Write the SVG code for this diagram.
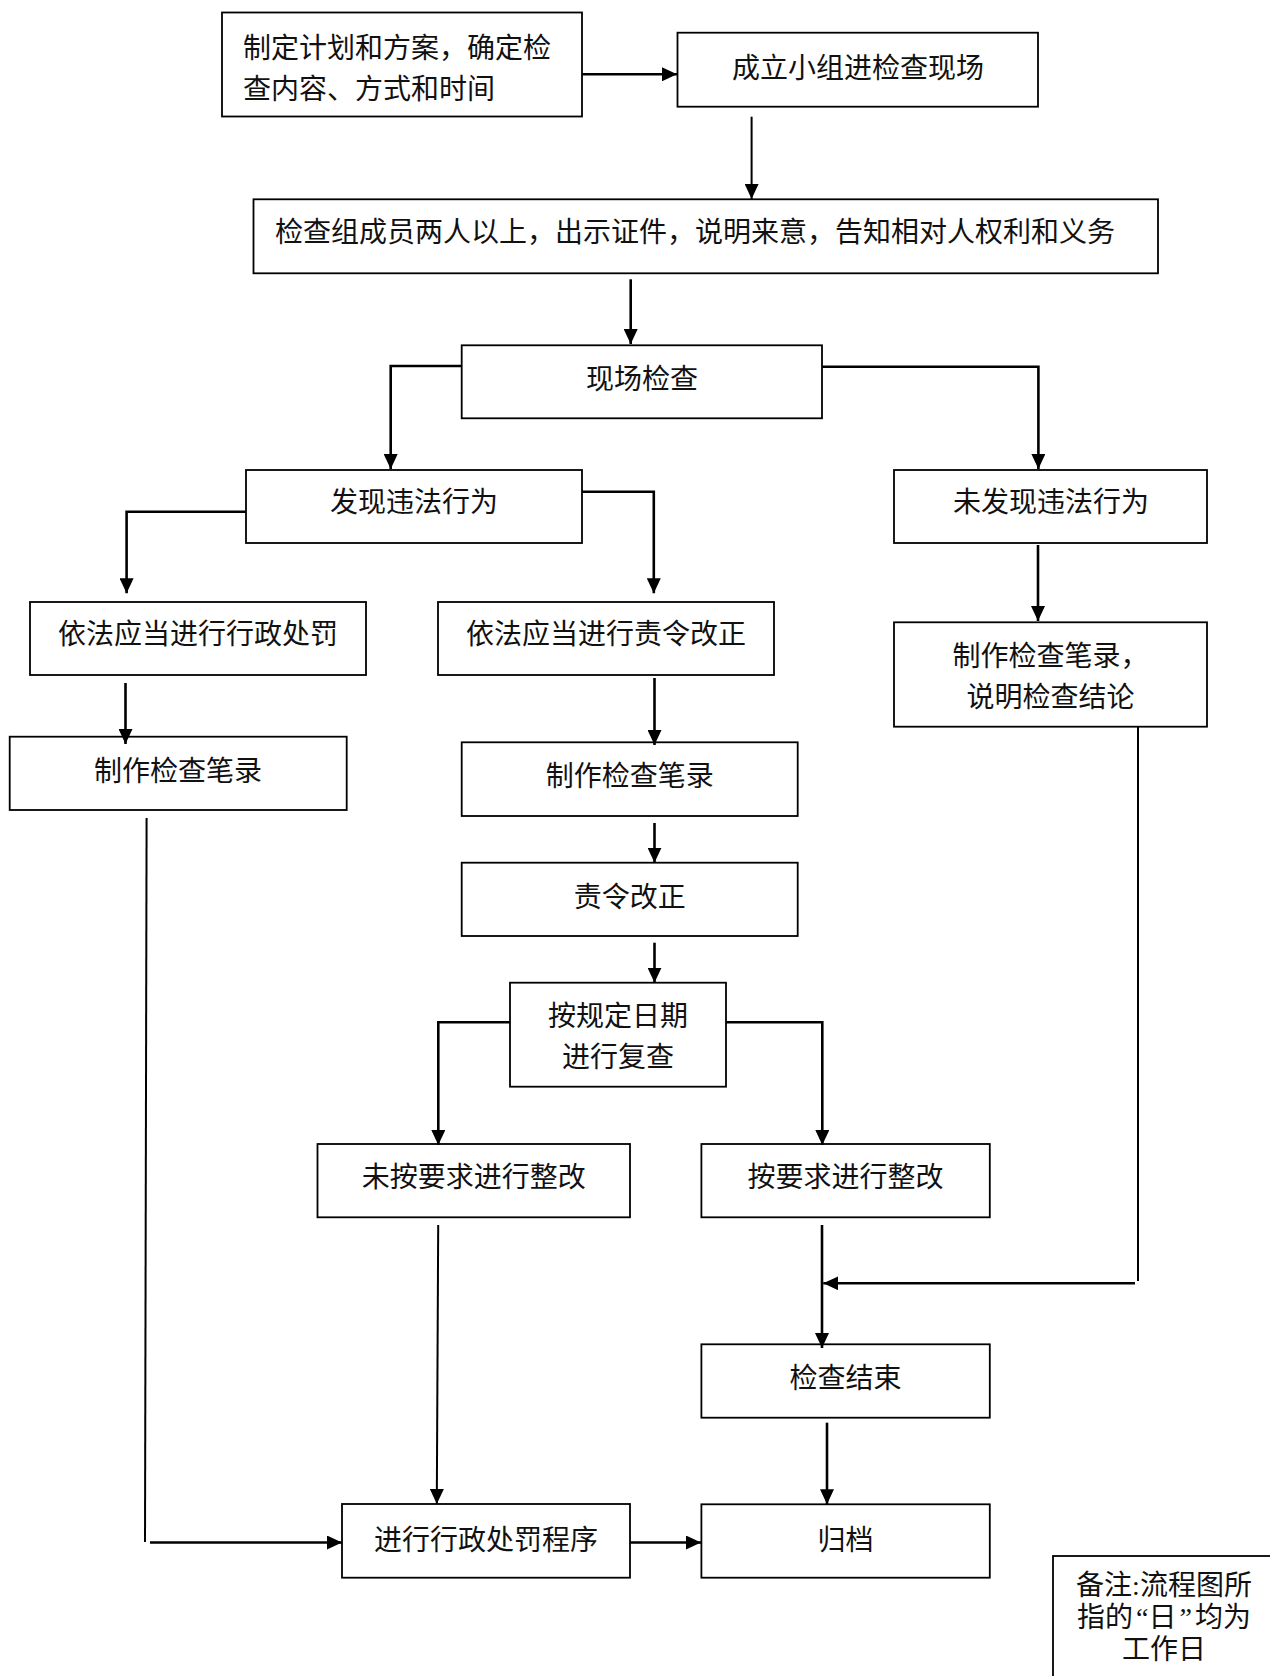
<svg xmlns="http://www.w3.org/2000/svg" width="1270" height="1676" viewBox="0 0 1270 1676">
<style>
.box{fill:#fff;stroke:#000;stroke-width:1.8}
.t{font-family:"Liberation Serif","Noto Sans CJK SC",serif;font-size:28px;fill:#111}
.c{text-anchor:middle}
.ln{fill:none;stroke:#000;stroke-width:2.6}
.th{fill:none;stroke:#000;stroke-width:2}
</style>
<defs>
<marker id="ah" markerUnits="userSpaceOnUse" markerWidth="16" markerHeight="14" refX="15" refY="7" orient="auto">
<path d="M0,0 L15,7 L0,14 z" fill="#000"/>
</marker>
</defs>
<rect width="1270" height="1676" fill="#fff"/>
<g id="n1"><rect class="box" x="222" y="12.5" width="360" height="104"/>
<text class="t" x="243" y="57.6">制定计划和方案，确定检</text>
<text class="t" x="243" y="98.6">查内容、方式和时间</text></g>
<g id="n2"><rect class="box" x="677.5" y="32.7" width="360.5" height="74"/>
<text class="t c" x="858" y="77.6">成立小组进检查现场</text></g>
<g id="n3"><rect class="box" x="253.5" y="199.3" width="904.5" height="74"/>
<text class="t" x="275" y="242.3">检查组成员两人以上，出示证件，说明来意，告知相对人权利和义务</text></g>
<g id="n4"><rect class="box" x="461.7" y="345.3" width="360.3" height="73"/>
<text class="t c" x="642" y="388.6">现场检查</text></g>
<g id="n5"><rect class="box" x="246" y="470" width="336" height="73"/>
<text class="t c" x="414" y="512">发现违法行为</text></g>
<g id="n6"><rect class="box" x="894" y="470" width="313" height="73"/>
<text class="t c" x="1051" y="512">未发现违法行为</text></g>
<g id="n7"><rect class="box" x="30" y="602" width="336" height="73"/>
<text class="t c" x="198" y="643.6">依法应当进行行政处罚</text></g>
<g id="n8"><rect class="box" x="438" y="602" width="336" height="73"/>
<text class="t c" x="606" y="643.6">依法应当进行责令改正</text></g>
<g id="n9"><rect class="box" x="894" y="622.3" width="313" height="104.4"/>
<text class="t c" x="1050.5" y="665.6">制作检查笔录，</text>
<text class="t c" x="1050.5" y="707.3">说明检查结论</text></g>
<g id="n10"><rect class="box" x="9.7" y="736.7" width="337" height="73.3"/>
<text class="t c" x="178" y="780.6">制作检查笔录</text></g>
<g id="n11"><rect class="box" x="461.7" y="742.3" width="336" height="73.7"/>
<text class="t c" x="629.8" y="785.6">制作检查笔录</text></g>
<g id="n12"><rect class="box" x="461.7" y="862.7" width="336" height="73.3"/>
<text class="t c" x="629.8" y="907.3">责令改正</text></g>
<g id="n13"><rect class="box" x="510" y="982.7" width="216" height="104"/>
<text class="t c" x="618" y="1025.6">按规定日期</text>
<text class="t c" x="618" y="1067.3">进行复查</text></g>
<g id="n14"><rect class="box" x="317.5" y="1144" width="312.5" height="73.3"/>
<text class="t c" x="473.8" y="1187.3">未按要求进行整改</text></g>
<g id="n15"><rect class="box" x="701.4" y="1144" width="288.4" height="73.3"/>
<text class="t c" x="845.6" y="1187.3">按要求进行整改</text></g>
<g id="n16"><rect class="box" x="701.4" y="1344.3" width="288.4" height="73.4"/>
<text class="t c" x="845.6" y="1388.3">检查结束</text></g>
<g id="n17"><rect class="box" x="701.4" y="1504.3" width="288.4" height="73.4"/>
<text class="t c" x="845.6" y="1550">归档</text></g>
<g id="n18"><rect class="box" x="342" y="1504" width="288" height="73.7"/>
<text class="t c" x="486" y="1549.6">进行行政处罚程序</text></g>
<g id="note"><rect class="box" x="1053" y="1556" width="240" height="140"/>
<text class="t c" x="1164" y="1594.6">备注:流程图所</text>
<text class="t c" x="1164" y="1626.6">指的<tspan dx="3">“</tspan>日<tspan dx="3">”</tspan><tspan dx="3">均为</tspan></text>
<text class="t c" x="1164" y="1659">工作日</text></g>
<g id="connectors">
<line class="ln" x1="582" y1="74.3" x2="677" y2="74.3" marker-end="url(#ah)"/>
<line class="th" x1="751.6" y1="116.7" x2="751.6" y2="199" marker-end="url(#ah)"/>
<line class="ln" x1="630.7" y1="279.3" x2="630.7" y2="344" marker-end="url(#ah)"/>
<polyline class="ln" points="461.7,366 390.7,366 390.7,469" marker-end="url(#ah)"/>
<polyline class="ln" points="822,366.7 1038.4,366.7 1038.4,469" marker-end="url(#ah)"/>
<polyline class="ln" points="246,511.7 126.6,511.7 126.6,593.3" marker-end="url(#ah)"/>
<polyline class="ln" points="582,491.7 653.8,491.7 653.8,593.3" marker-end="url(#ah)"/>
<line class="ln" x1="1038" y1="545" x2="1038" y2="621" marker-end="url(#ah)"/>
<line class="ln" x1="125.5" y1="683" x2="125.5" y2="744" marker-end="url(#ah)"/>
<line class="ln" x1="654.5" y1="678" x2="654.5" y2="745" marker-end="url(#ah)"/>
<line class="ln" x1="654.5" y1="823" x2="654.5" y2="862.7" marker-end="url(#ah)"/>
<line class="ln" x1="654.5" y1="942.7" x2="654.5" y2="982.7" marker-end="url(#ah)"/>
<polyline class="ln" points="510,1022.3 438.3,1022.3 438.3,1145" marker-end="url(#ah)"/>
<polyline class="ln" points="726,1022.3 822.3,1022.3 822.3,1145" marker-end="url(#ah)"/>
<line class="th" x1="438.2" y1="1225" x2="436.8" y2="1504" marker-end="url(#ah)"/>
<line class="ln" x1="822" y1="1225" x2="822" y2="1348" marker-end="url(#ah)"/>
<line class="th" x1="1138" y1="727" x2="1138" y2="1281"/>
<line class="ln" x1="1135" y1="1283.3" x2="823.3" y2="1283.3" marker-end="url(#ah)"/>
<line class="th" x1="146.6" y1="818" x2="145" y2="1542"/>
<line class="ln" x1="150" y1="1542.5" x2="342" y2="1542.5" marker-end="url(#ah)"/>
<line class="ln" x1="827" y1="1422.7" x2="827" y2="1504.3" marker-end="url(#ah)"/>
<line class="ln" x1="630" y1="1542.5" x2="701" y2="1542.5" marker-end="url(#ah)"/>
</g>
</svg>
